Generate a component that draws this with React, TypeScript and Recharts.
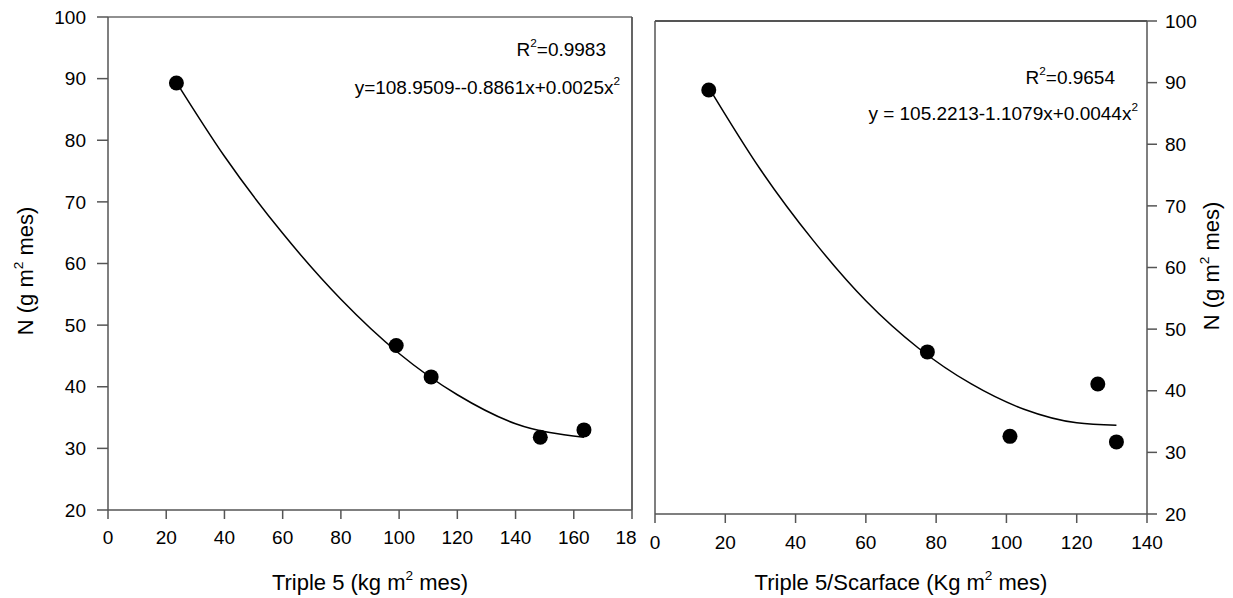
import { ComposedChart, Scatter, Line, XAxis, YAxis, ReferenceLine } from 'recharts';

const FONT = '"Liberation Sans", Arial, Helvetica, sans-serif';

// left panel: Triple 5
const leftDose = [23.5, 99, 111, 148.5, 163.5];
const leftN = [89.3, 46.7, 41.6, 31.8, 33.0];
const leftFitDose = [23.5, 40, 60, 80, 100, 120, 140, 163.5];
const leftFitN = [89.4, 77.4, 64.9, 54.2, 45.4, 38.7, 34.0, 31.8];
const leftXTicks = [0, 20, 40, 60, 80, 100, 120, 140, 160, 180];

// right panel: Triple 5/Scarface
const rightDose = [15.3, 77.5, 101, 126, 131.3];
const rightN = [88.8, 46.3, 32.6, 41.1, 31.7];
const rightFitDose = [15.3, 30, 45, 60, 75, 90, 105, 120, 131.3];
const rightFitN = [89.2, 75.9, 64.4, 54.6, 46.9, 41.1, 37.0, 34.8, 34.4];
const rightXTicks = [0, 20, 40, 60, 80, 100, 120, 140];

const nTicks = [20, 30, 40, 50, 60, 70, 80, 90, 100];

const zip = (xs: number[], ys: number[]) => xs.map((x, i) => ({ x, y: ys[i] }));

const AXIS = { stroke: '#555', strokeWidth: 1.5 };
const TICK = { fill: '#000', fontSize: 19, fontFamily: FONT };

function Dot(props: any) {
  const { cx, cy } = props;
  if (cx == null || cy == null) return null;
  return <circle cx={cx} cy={cy} r={7.5} fill="#000" />;
}

function SupText({ x, y, pre, post, size, anchor = 'middle', rotate = false }: any) {
  return (
    <text
      x={x}
      y={y}
      textAnchor={anchor}
      fill="#000"
      fontSize={size}
      fontFamily={FONT}
      transform={rotate ? `rotate(-90 ${x} ${y})` : undefined}
    >
      <tspan>{pre}</tspan>
      <tspan dy={-size * 0.45} fontSize={size * 0.62}>2</tspan>
      <tspan dy={size * 0.45}>{post}</tspan>
    </text>
  );
}

function LeftXTick(props: any) {
  const { x, y, payload } = props;
  const v = payload.value;
  const cut = v === 180;
  return (
    <text x={cut ? x - 6 : x} y={y} dy="0.71em" textAnchor="middle" {...TICK}>
      {cut ? '18' : String(v)}
    </text>
  );
}

function LeftPanel() {
  return (
    <div style={{ position: 'absolute', left: 0, top: 0 }}>
      <ComposedChart width={660} height={598} margin={{ top: 17, right: 28, bottom: 0, left: 0 }}>
        <XAxis
          type="number"
          dataKey="x"
          domain={[0, 180]}
          ticks={leftXTicks}
          interval={0}
          height={88}
          tickSize={9}
          tickMargin={12}
          axisLine={AXIS}
          tickLine={AXIS}
          tick={<LeftXTick />}
          label={{
            content: (p: any) => (
              <SupText x={p.viewBox.x + p.viewBox.width / 2} y={p.viewBox.y + 80} pre="Triple 5 (kg m" post=" mes)" size={22} />
            ),
          }}
        />
        <YAxis
          type="number"
          dataKey="y"
          domain={[20, 100]}
          ticks={nTicks}
          interval={0}
          width={108}
          tickSize={11}
          tickMargin={11}
          axisLine={AXIS}
          tickLine={AXIS}
          tick={TICK}
          label={{
            content: () => <SupText x={33} y={271} pre="N (g m" post=" mes)" size={22} rotate />,
          }}
        />
        <ReferenceLine y={100} stroke="#222" strokeWidth={1.2} />
        <ReferenceLine x={180} stroke="#555" strokeWidth={1.8} />
        <Line data={zip(leftFitDose, leftFitN)} dataKey="y" type="monotone" stroke="#000" strokeWidth={1.5} dot={false} isAnimationActive={false} />
        <Scatter data={zip(leftDose, leftN)} dataKey="y" shape={<Dot />} isAnimationActive={false} />
      </ComposedChart>
    </div>
  );
}

function RightPanel() {
  return (
    <div style={{ position: 'absolute', left: 620, top: 0 }}>
      <ComposedChart width={613} height={598} margin={{ top: 21, right: 0, bottom: 0, left: 35 }}>
        <XAxis
          type="number"
          dataKey="x"
          domain={[0, 140]}
          ticks={rightXTicks}
          interval={0}
          height={84}
          tickSize={9}
          tickMargin={13}
          axisLine={AXIS}
          tickLine={AXIS}
          tick={TICK}
          label={{
            content: (p: any) => (
              <SupText x={p.viewBox.x + p.viewBox.width / 2} y={p.viewBox.y + 76} pre="Triple 5/Scarface (Kg m" post=" mes)" size={22} />
            ),
          }}
        />
        <YAxis
          type="number"
          dataKey="y"
          orientation="right"
          domain={[20, 100]}
          ticks={nTicks}
          interval={0}
          width={86}
          tickSize={10}
          tickMargin={8}
          axisLine={AXIS}
          tickLine={AXIS}
          tick={TICK}
          label={{
            content: () => <SupText x={599} y={266} pre="N (g m" post=" mes)" size={22} rotate />,
          }}
        />
        <ReferenceLine y={100} stroke="#555" strokeWidth={1.8} />
        <ReferenceLine x={0} stroke="#555" strokeWidth={1.5} />
        <Line data={zip(rightFitDose, rightFitN)} dataKey="y" type="monotone" stroke="#000" strokeWidth={1.5} dot={false} isAnimationActive={false} />
        <Scatter data={zip(rightDose, rightN)} dataKey="y" shape={<Dot />} isAnimationActive={false} />
      </ComposedChart>
    </div>
  );
}

export default function App() {
  return (
    <div style={{ position: 'absolute', left: 0, top: 0, width: 1233, height: 598, background: '#fff' }}>
      <LeftPanel />
      <RightPanel />
      <svg width={1233} height={598} style={{ position: 'absolute', left: 0, top: 0, pointerEvents: 'none' }}>
        <SupText x={606} y={56} pre="R" post="=0.9983" size={19} anchor="end" />
        <SupText x={620} y={94} pre="y=108.9509--0.8861x+0.0025x" post="" size={19} anchor="end" />
        <SupText x={1115} y={84} pre="R" post="=0.9654" size={19} anchor="end" />
        <SupText x={1138} y={120} pre="y = 105.2213-1.1079x+0.0044x" post="" size={19} anchor="end" />
      </svg>
    </div>
  );
}
